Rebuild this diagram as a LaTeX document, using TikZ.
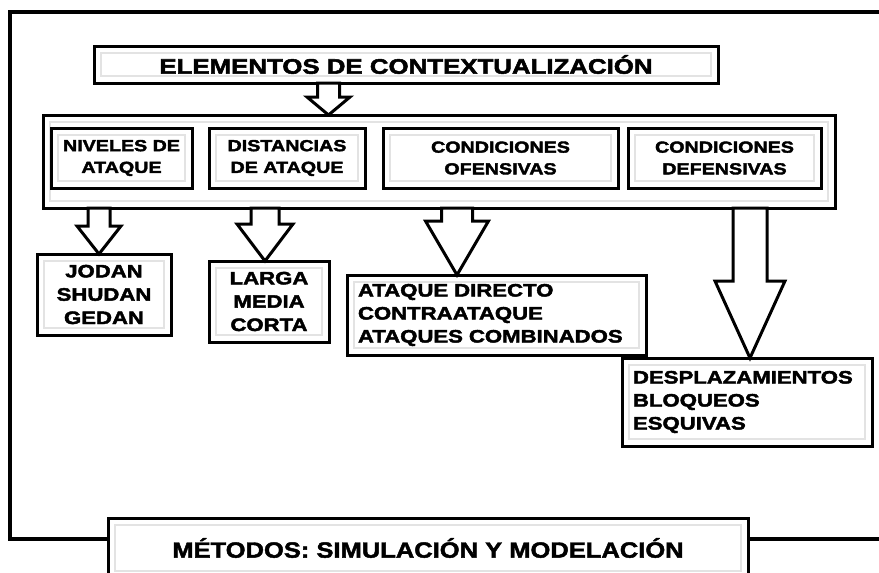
\documentclass[tikz,border=0pt]{standalone}
\usepackage{fontspec}
\newfontfamily\blk{Liberation Sans}[FakeStretch=1.23, FakeBold=2.4]
\newfontfamily\mth{Liberation Sans}[FakeStretch=1.16, FakeBold=2]
\usetikzlibrary{calc}
\tikzset{
  bx/.style={draw, line width=3pt, fill=white, inner sep=0pt, outer sep=0pt,
    path picture={\draw[black!11, line width=1.2pt]
      ([shift={(7pt,-7pt)}]path picture bounding box.north west) rectangle
      ([shift={(-7pt,7pt)}]path picture bounding box.south east);}},
  ttl/.style={font={\blk\bfseries\fontsize{21}{25}\selectfont}},
  hdr/.style={align=center, font={\blk\bfseries\fontsize{16}{21.7}\selectfont}},
  itc/.style={align=center, font={\blk\bfseries\fontsize{18}{23.3}\selectfont}},
  itl/.style={align=left, inner xsep=11pt, font={\blk\bfseries\fontsize{18}{23}\selectfont}},
  mtd/.style={font={\mth\bfseries\fontsize{22}{26}\selectfont}},
  barr/.style={draw, fill=white, line width=3pt, line join=miter},
}
% #1 x, #2 from node, #3 to node, #4 shaft half width, #5 head half width, #6 head length
\newcommand\barrow[6]{%
  \draw[barr] let \p1=(#2.south), \p2=(#3.north) in
    ({(#1-#4)*1pt},\y1) -- ({(#1+#4)*1pt},\y1) -- ({(#1+#4)*1pt},{\y2+#6pt})
    -- ({(#1+#5)*1pt},{\y2+#6pt}) -- ({#1pt},\y2) -- ({(#1-#5)*1pt},{\y2+#6pt})
    -- ({(#1-#4)*1pt},{\y2+#6pt}) -- cycle;}
\begin{document}
\begin{tikzpicture}[x=1pt,y=-1pt]
\useasboundingbox (0,0) rectangle (879,573);
\fill[white] (0,0) rectangle (879,573);
% outer frame
\draw[line width=4pt] (895,12) -- (10,12) -- (10,539) -- (895,539);
% title
\node[bx, ttl, minimum width=624pt, minimum height=37pt] (title) at (406,64.5) {ELEMENTOS DE CONTEXTUALIZACIÓN};
% container
\node[bx, minimum width=792pt, minimum height=93pt] (cont) at (439,161.5) {};
\node[bx, hdr, minimum width=141pt, minimum height=60pt] (niv) at (121.5,158) {NIVELES DE\\ATAQUE};
\node[bx, hdr, minimum width=156pt, minimum height=60pt] (dis) at (287,158) {DISTANCIAS\\DE ATAQUE};
\node[bx, hdr, minimum width=235pt, minimum height=60pt] (cof) at (500.5,158) {CONDICIONES\\OFENSIVAS};
\node[bx, hdr, minimum width=193pt, minimum height=60pt] (cdf) at (724.5,158) {CONDICIONES\\DEFENSIVAS};
% lower boxes
\node[bx, itc, minimum width=134pt, minimum height=81pt] (jod) at (104,294.5) {JODAN\\SHUDAN\\GEDAN};
\node[bx, itc, minimum width=120pt, minimum height=81pt] (lar) at (269,301.5) {LARGA\\MEDIA\\CORTA};
\node[bx, itl, text width=277pt, minimum height=80pt] (ata) at (496.5,315) {ATAQUE DIRECTO\\CONTRAATAQUE\\ATAQUES COMBINADOS};
\node[bx, itl, text width=228pt, minimum height=88pt] (des) at (747,402) {DESPLAZAMIENTOS\\BLOQUEOS\\ESQUIVAS};
% methods
\node[bx, mtd, minimum width=640pt, minimum height=60pt] (met) at (428,548) {MÉTODOS: SIMULACIÓN Y MODELACIÓN};
% block arrows
\barrow{328.5}{title}{cont}{11}{21.5}{18}
\barrow{99}{cont}{jod}{11}{22}{28}
\barrow{265}{cont}{lar}{14}{28}{37}
\barrow{457}{cont}{ata}{15.5}{31.5}{54}
\barrow{750}{cont}{des}{17}{35}{77}
\end{tikzpicture}
\end{document}
